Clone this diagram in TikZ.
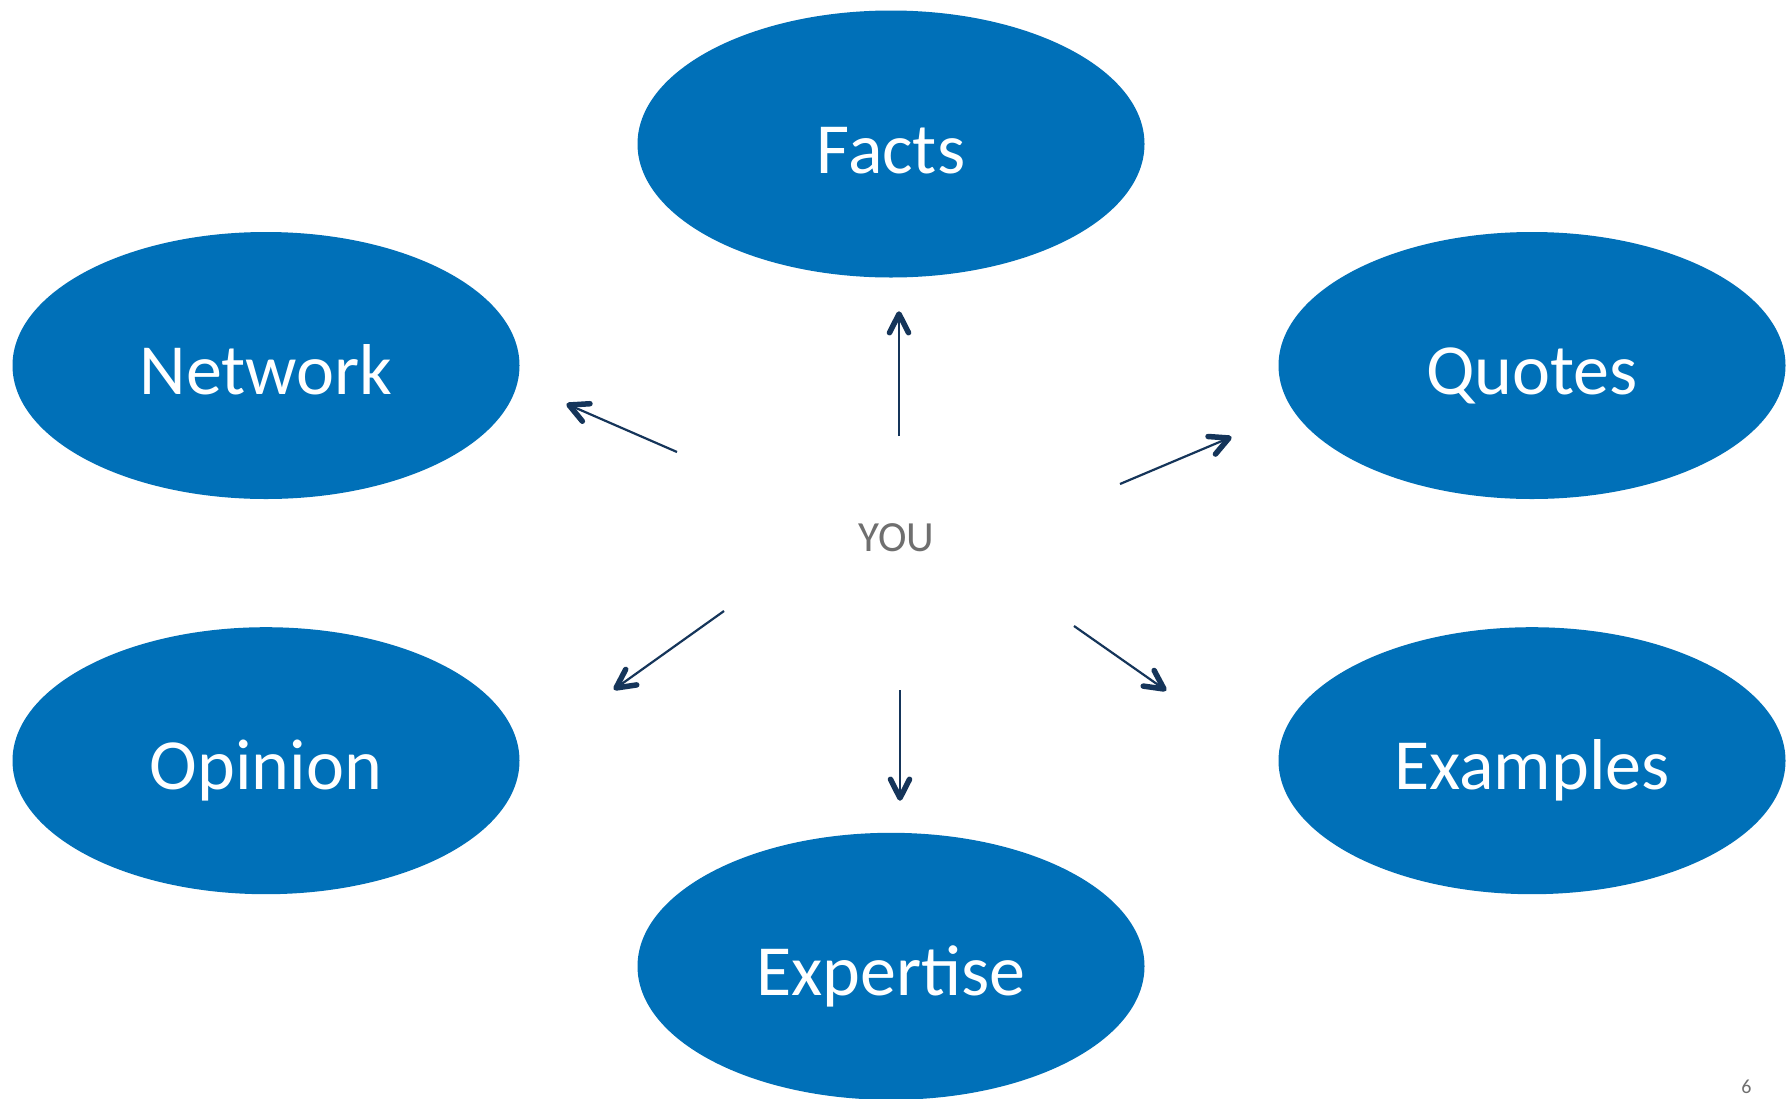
\documentclass[tikz,border=0pt]{standalone}
\usepackage{fontspec}
\setmainfont{Carlito}
\usetikzlibrary{shapes.geometric,calc}
\definecolor{bubble}{HTML}{0070B8}
\definecolor{arrowc}{HTML}{15355A}
\definecolor{youc}{HTML}{6F6F6F}
% shaft from #1 to #2, with a heavy open barb head at #2
\newcommand\barbarrow[2]{%
  \draw[shaft] (#1) -- (#2);
  \draw[barbhead] ($(#2)!21pt!27:(#1)$) -- (#2) -- ($(#2)!21pt!-27:(#1)$);}
\begin{document}
\begin{tikzpicture}[x=1pt,y=-1pt,
  bubble/.style={ellipse, fill=bubble, minimum width=507pt, minimum height=267pt,
    inner sep=0pt, outer sep=0pt, text=white, font=\fontsize{72}{72}\selectfont,
    text height=58pt, text depth=0pt},
  shaft/.style={draw=arrowc, line width=2.2pt},
  barbhead/.style={draw=arrowc, line width=5.5pt, line cap=round, line join=round}]
\useasboundingbox (0,0) rectangle (1791,1098);
\clip (0,0) rectangle (1791,1098);
\fill[white] (0,0) rectangle (1791,1098);

% the six bubbles
\node[bubble] (facts)     at (891,144)   {Facts};
\node[bubble] (network)   at (266,365.5) {Network};
\node[bubble] (quotes)    at (1532,365.5) {Quotes};
\node[bubble] (opinion)   at (266,760.7) {Opinion};
\node[bubble] (examples)  at (1532,760.7) {Examples};
\node[bubble] (expertise) at (891,966.3) {Expertise};

% centre label
\node[text=youc, font=\fontsize{43}{43}\selectfont, inner sep=0pt] (you) at (896.6,537.3) {YOU};

% arrow end points
\coordinate (upA) at (899,436);   \coordinate (upB) at (899,314);
\coordinate (nwA) at (677,452);   \coordinate (nwB) at (569,405);
\coordinate (neA) at (1120,484);  \coordinate (neB) at (1229,438);
\coordinate (swA) at (724,611);   \coordinate (swB) at (616,688);
\coordinate (dnA) at (900,690);   \coordinate (dnB) at (900,798);
\coordinate (seA) at (1074,626);  \coordinate (seB) at (1164,689);

\barbarrow{upA}{upB}
\barbarrow{nwA}{nwB}
\barbarrow{neA}{neB}
\barbarrow{swA}{swB}
\barbarrow{dnA}{dnB}
\barbarrow{seA}{seB}

% slide number
\node[text=youc, font=\fontsize{20}{20}\selectfont, inner sep=0pt] (pagenum) at (1746.5,1087) {6};
\end{tikzpicture}
\end{document}
